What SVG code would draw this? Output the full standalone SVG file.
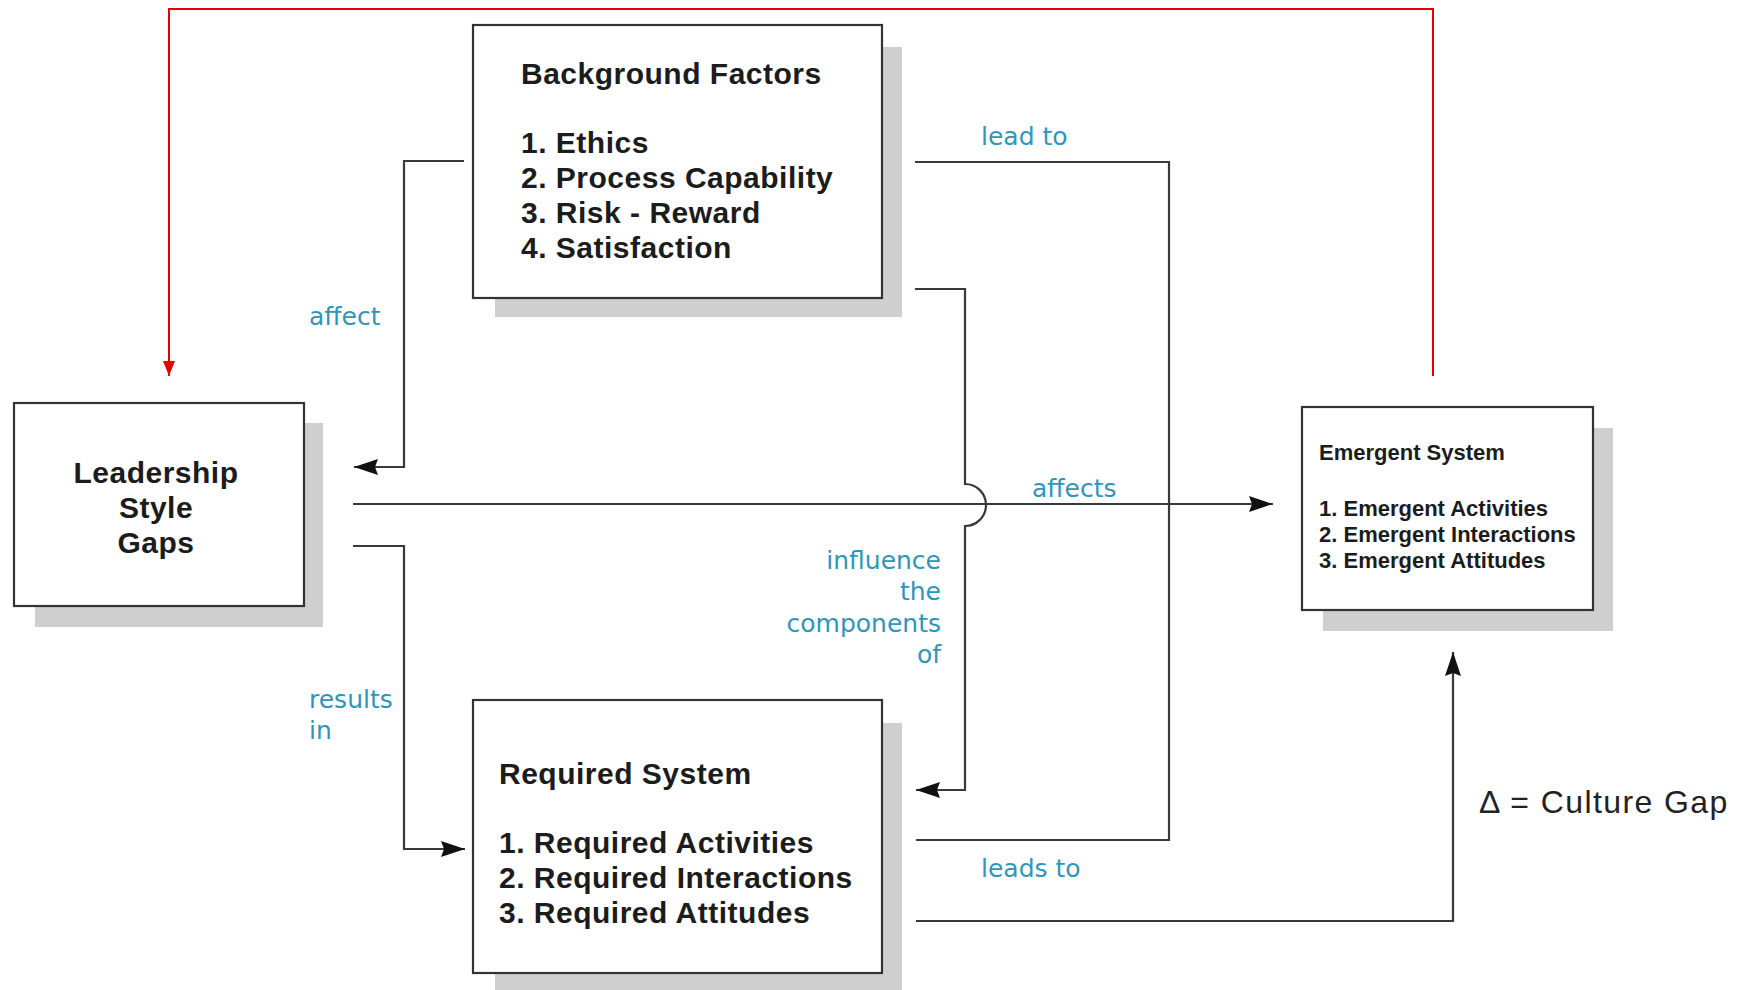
<svg xmlns="http://www.w3.org/2000/svg" width="1750" height="990" viewBox="0 0 1750 990">
<defs>
<style>
.box{fill:#fff;stroke:#333;stroke-width:2.2}
.shadow{fill:#cfcfcf}
.big{font-family:"Liberation Sans",Arial,sans-serif;font-weight:bold;font-size:30px;letter-spacing:0.5px;fill:#1c1c1c}
.small{font-family:"Liberation Sans",Arial,sans-serif;font-weight:bold;font-size:22px;fill:#1c1c1c}
.lbl{font-family:"DejaVu Sans",sans-serif;font-size:25px;fill:#3195bb}
.gap{font-family:"Liberation Sans",Arial,sans-serif;font-size:32px;letter-spacing:1.4px;fill:#222}
.conn{fill:none;stroke:#3a3a3a;stroke-width:2.2}
.red{fill:none;stroke:#e60000;stroke-width:2}
</style>
<marker id="arr" markerUnits="userSpaceOnUse" markerWidth="26" markerHeight="18" refX="24" refY="9" orient="auto">
<path d="M0,1 L24,9 L0,17 L3,9 Z" fill="#111"/>
</marker>
<marker id="arrRed" markerUnits="userSpaceOnUse" markerWidth="16" markerHeight="12" refX="15" refY="6" orient="auto">
<path d="M0,0 L15,6 L0,12 Z" fill="#e60000"/>
</marker>
</defs>
<rect width="1750" height="990" fill="#fff"/>

<g id="connectors">
<path class="conn" d="M464,161 H404 V467 H354" marker-end="url(#arr)"/>
<path class="conn" d="M353,504 H1273" marker-end="url(#arr)"/>
<path class="conn" d="M353,546 H404 V849 H465" marker-end="url(#arr)"/>
<path class="conn" d="M915,162 H1169 V840 H916"/>
<path class="conn" d="M915,289 H965 V484 A21,21 0 0 1 965,526 V790 H916" marker-end="url(#arr)"/>
<path class="conn" d="M916,921 H1453 V652" marker-end="url(#arr)"/>
<path class="red" d="M1433,376 V9 H169 V376" marker-end="url(#arrRed)"/>
<text class="lbl" x="309" y="325">affect</text>
<text class="lbl" x="981" y="145">lead to</text>
<text class="lbl" x="1032" y="497">affects</text>
<text class="lbl" text-anchor="end" x="941" y="569">influence</text>
<text class="lbl" text-anchor="end" x="941" y="600">the</text>
<text class="lbl" text-anchor="end" x="941" y="632">components</text>
<text class="lbl" text-anchor="end" x="941" y="663">of</text>
<text class="lbl" x="309" y="708">results</text>
<text class="lbl" x="309" y="739">in</text>
<text class="lbl" x="981" y="877">leads to</text>
</g>

<g id="background-factors">
<rect class="shadow" x="495" y="47" width="407" height="270"/>
<rect class="box" x="473" y="25" width="409" height="273"/>
<text class="big" x="521" y="84">Background Factors</text>
<text class="big" x="521" y="153">1. Ethics</text>
<text class="big" x="521" y="188">2. Process Capability</text>
<text class="big" x="521" y="223">3. Risk - Reward</text>
<text class="big" x="521" y="258">4. Satisfaction</text>
</g>

<g id="leadership-style-gaps">
<rect class="shadow" x="35" y="423" width="288" height="204"/>
<rect class="box" x="14" y="403" width="290" height="203"/>
<text class="big" text-anchor="middle" x="156" y="483">Leadership</text>
<text class="big" text-anchor="middle" x="156" y="518">Style</text>
<text class="big" text-anchor="middle" x="156" y="553">Gaps</text>
</g>

<g id="emergent-system">
<rect class="shadow" x="1323" y="428" width="290" height="203"/>
<rect class="box" x="1302" y="407" width="291" height="203"/>
<text class="small" x="1319" y="460">Emergent System</text>
<text class="small" x="1319" y="516">1. Emergent Activities</text>
<text class="small" x="1319" y="542">2. Emergent Interactions</text>
<text class="small" x="1319" y="568">3. Emergent Attitudes</text>
</g>

<g id="required-system">
<rect class="shadow" x="495" y="723" width="407" height="267"/>
<rect class="box" x="473" y="700" width="409" height="273"/>
<text class="big" x="499" y="784">Required System</text>
<text class="big" x="499" y="853">1. Required Activities</text>
<text class="big" x="499" y="888">2. Required Interactions</text>
<text class="big" x="499" y="923">3. Required Attitudes</text>
</g>

<g id="culture-gap">
<text class="gap" x="1479" y="813">Δ = Culture Gap</text>
</g>
</svg>
